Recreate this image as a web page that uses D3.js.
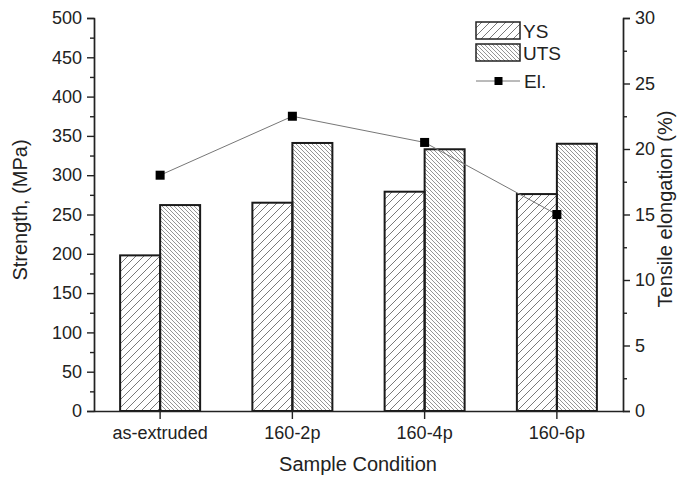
<!DOCTYPE html>
<html>
<head>
<meta charset="utf-8">
<script src="https://cdn.jsdelivr.net/npm/d3@7"></script>
<style>
  body { margin: 0; background: #fff; }
  text { font-family: "Liberation Sans", Arial, sans-serif; fill: #222; }
</style>
</head>
<body>
<div id="chart"></div>
<script>
const categories = ["as-extruded", "160-2p", "160-4p", "160-6p"];
const ysValues = [198, 265, 279, 276];
const utsValues = [262, 341, 333, 340];
const elValues = [18.0, 22.5, 20.5, 15.0];
const leftTicks = [0, 50, 100, 150, 200, 250, 300, 350, 400, 450, 500];
const rightTicks = [0, 5, 10, 15, 20, 25, 30];

var width = 678, height = 477;
var plotL = 94, plotR = 623, plotT = 18, plotB = 411;

const svg = d3.select('#chart').append('svg').attr('width', width).attr('height', height);

// hatch fills
const defs = svg.append('defs');
defs.append('pattern').attr('id', 'hatchYS').attr('patternUnits', 'userSpaceOnUse')
    .attr('width', 8).attr('height', 8)
    .append('path').attr('d', 'M-2,2 l4,-4 M0,8 l8,-8 M6,10 l4,-4')
    .attr('stroke', '#6a6a6a').attr('stroke-width', 0.9);
defs.append('pattern').attr('id', 'hatchUTS').attr('patternUnits', 'userSpaceOnUse')
    .attr('width', 4).attr('height', 4)
    .append('path').attr('d', 'M-1,-1 l6,6 M-1,3 l2,2 M3,-1 l2,2')
    .attr('stroke', '#7a7a7a').attr('stroke-width', 0.8);

const x = d3.scaleBand().domain(categories).range([plotL, plotR]);
const yL = d3.scaleLinear().domain([0, 500]).range([plotB, plotT]);
const yR = d3.scaleLinear().domain([0, 30]).range([plotB, plotT]);
const barW = 40;
const cx = d => x(d) + x.bandwidth() / 2;

// bars
const g = svg.append('g');
g.selectAll('.ys').data(categories).enter().append('rect')
    .attr('x', d => cx(d) - barW)
    .attr('y', (d, i) => yL(ysValues[i]))
    .attr('width', barW)
    .attr('height', (d, i) => plotB - yL(ysValues[i]))
    .attr('fill', 'url(#hatchYS)').attr('stroke', '#1a1a1a').attr('stroke-width', 2);
g.selectAll('.uts').data(categories).enter().append('rect')
    .attr('x', d => cx(d))
    .attr('y', (d, i) => yL(utsValues[i]))
    .attr('width', barW)
    .attr('height', (d, i) => plotB - yL(utsValues[i]))
    .attr('fill', 'url(#hatchUTS)').attr('stroke', '#1a1a1a').attr('stroke-width', 2);

// elongation line
const line = d3.line().x((d, i) => cx(categories[i])).y(d => yR(d));
svg.append('path').datum(elValues).attr('d', line)
    .attr('fill', 'none').attr('stroke', '#777').attr('stroke-width', 1);
svg.selectAll('.pt').data(elValues).enter().append('rect')
    .attr('x', (d, i) => cx(categories[i]) - 4.5)
    .attr('y', d => yR(d) - 4.5)
    .attr('width', 9).attr('height', 9).attr('fill', '#000');

// axes
const axL = d3.axisLeft(yL).tickValues(leftTicks).tickSizeOuter(0).tickSize(7).tickPadding(5);
const axLm = d3.axisLeft(yL).tickValues(d3.range(25, 500, 50)).tickSize(4).tickFormat('').tickSizeOuter(0);
const axR = d3.axisRight(yR).tickValues(rightTicks).tickSizeOuter(0).tickSize(7).tickPadding(5);
const axRm = d3.axisRight(yR).tickValues(d3.range(2.5, 30, 5)).tickSize(4).tickFormat('').tickSizeOuter(0);
const axB = d3.axisBottom(x).tickSize(8).tickSizeOuter(0).tickPadding(7);

function style(sel) {
  sel.selectAll('path, line').attr('stroke', '#222').attr('stroke-width', 1.4);
  sel.selectAll('text').style('font-size', '18px').attr('fill', '#222');
}
svg.append('g').attr('transform', `translate(${plotL},0)`).call(axLm).call(style);
svg.append('g').attr('transform', `translate(${plotL},0)`).call(axL).call(style);
svg.append('g').attr('transform', `translate(${plotR},0)`).call(axRm).call(style);
svg.append('g').attr('transform', `translate(${plotR},0)`).call(axR).call(style);
svg.append('g').attr('transform', `translate(0,${plotB})`).call(axB).call(style);

// titles
svg.append('text').attr('transform', 'translate(27,210) rotate(-90)')
    .attr('text-anchor', 'middle').style('font-size', '20px').text('Strength, (MPa)');
svg.append('text').attr('transform', 'translate(672,209) rotate(-90)')
    .attr('text-anchor', 'middle').style('font-size', '20px').text('Tensile elongation (%)');
svg.append('text').attr('x', 358).attr('y', 471)
    .attr('text-anchor', 'middle').style('font-size', '20px').text('Sample Condition');

// legend
const legend = [
  { name: 'YS', fill: 'url(#hatchYS)' },
  { name: 'UTS', fill: 'url(#hatchUTS)' }
];
const lg = svg.append('g');
lg.selectAll('rect.box').data(legend).enter().append('rect')
    .attr('x', 476).attr('y', (d, i) => 22 + i * 22)
    .attr('width', 44).attr('height', 17)
    .attr('fill', d => d.fill).attr('stroke', '#222').attr('stroke-width', 1.5);
lg.selectAll('text.lab').data(legend).enter().append('text')
    .attr('x', 523).attr('y', (d, i) => 38 + i * 22)
    .style('font-size', '19px').text(d => d.name);
lg.append('line').attr('x1', 476).attr('x2', 520).attr('y1', 81).attr('y2', 81)
    .attr('stroke', '#777').attr('stroke-width', 1);
lg.append('rect').attr('x', 494.5).attr('y', 77).attr('width', 8).attr('height', 8).attr('fill', '#000');
lg.append('text').attr('x', 524).attr('y', 88).style('font-size', '19px').text('El.');
</script>
</body>
</html>
